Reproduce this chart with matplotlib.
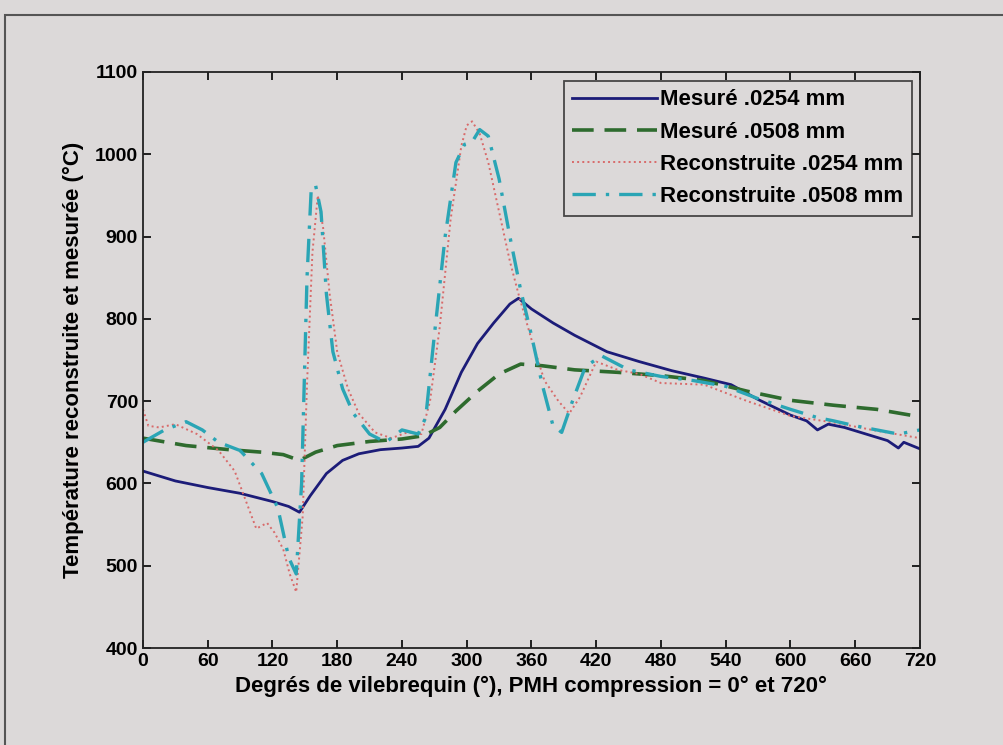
import matplotlib
matplotlib.use('Agg')
import matplotlib.pyplot as plt
from matplotlib.patches import Rectangle

# crank angle (deg) and temperatures (C)
x_mes1 = [0, 30, 60, 90, 120, 135, 145, 155, 170, 185, 200, 220, 240, 255, 265, 280, 295,
          310, 325, 340, 348, 360, 380, 400, 430, 460, 490, 520, 545, 570, 600, 615, 625,
          635, 650, 670, 690, 700, 705, 720]
y_mes1 = [615, 603, 595, 588, 578, 572, 565, 585, 612, 628, 636, 641, 643, 645, 655, 690, 735,
          770, 795, 818, 825, 812, 795, 780, 760, 748, 737, 728, 720, 702, 683, 676, 665,
          672, 668, 660, 652, 643, 650, 642]

x_mes2 = [0, 40, 80, 110, 130, 145, 160, 180, 210, 240, 260, 275, 290, 310, 330, 350, 370,
          400, 440, 480, 520, 560, 600, 640, 680, 720]
y_mes2 = [655, 646, 641, 638, 635, 628, 638, 646, 651, 654, 658, 668, 688, 712, 733, 745, 743,
          738, 735, 731, 725, 712, 701, 695, 690, 681]

x_rec1 = [0, 5, 15, 30, 50, 70, 85, 95, 105, 115, 122, 130, 136, 142, 148, 152, 157, 162,
          167, 173, 180, 190, 200, 215, 230, 245, 258, 266, 275, 285, 295, 300, 305, 312,
          320, 330, 340, 348, 360, 372, 385, 395, 405, 420, 440, 460, 480, 520, 560, 600,
          640, 680, 720]
y_rec1 = [690, 670, 668, 672, 660, 640, 615, 580, 545, 552, 540, 520, 490, 468, 560, 720, 880,
          950, 910, 830, 760, 715, 685, 662, 655, 662, 660, 700, 790, 920, 1010, 1035, 1040,
          1025, 990, 930, 870, 830, 775, 725, 700, 685, 705, 748, 738, 733, 722, 720, 700,
          682, 674, 664, 655]

x_rec2 = [0, 20, 40, 55, 70, 90, 110, 125, 135, 142, 147, 152, 156, 160, 165, 170, 176, 185,
          195, 210, 225, 240, 255, 262, 270, 280, 290, 298, 305, 312, 320, 330, 340, 350,
          360, 370, 380, 388, 398, 410, 425, 450, 480, 510, 540, 570, 600, 625, 640, 660,
          680, 700, 720]
y_rec2 = [650, 665, 675, 665, 650, 640, 612, 570, 510, 490, 600, 850, 960, 962, 930, 830, 760,
          715, 685, 660, 650, 665, 660, 680, 780, 900, 990, 1012, 1015, 1030, 1022, 970, 900,
          835, 780, 720, 670, 662, 700, 742, 755, 738, 730, 725, 718, 703, 690, 680, 676, 670,
          665, 660, 665]

labels = ['Mesuré .0254 mm', 'Mesuré .0508 mm', 'Reconstruite .0254 mm', 'Reconstruite .0508 mm']

bg = '#dcd9d9'
plt.rcParams['font.family'] = ['Liberation Sans', 'DejaVu Sans']
plt.rcParams['font.weight'] = 'bold'

fig = plt.figure(figsize=(10.04, 7.45), dpi=100, facecolor=bg)
# scanned frame around the figure
fig.patches.append(Rectangle((0.005, -0.01), 1.2, 0.99, transform=fig.transFigure,
                             fill=False, edgecolor='#555555', lw=1.5))
ax = fig.add_axes([0.1424, 0.1302, 0.7739, 0.7732])
ax.set_facecolor(bg)

ax.plot(x_mes1, y_mes1, '-', color='#1c1c78', lw=2.0, label=labels[0])
ax.plot(x_mes2, y_mes2, '--', color='#2e6b2e', lw=2.6, dashes=(6, 3), label=labels[1])
ax.plot(x_rec1, y_rec1, ':', color='#d86a6a', lw=1.4, label=labels[2])
ax.plot(x_rec2, y_rec2, '-.', color='#2aa5b5', lw=2.4, dashes=(7, 3, 1, 3), label=labels[3])

ax.set_xlim(0, 720)
ax.set_ylim(400, 1100)
ax.set_xticks(range(0, 721, 60))
ax.set_yticks(range(400, 1101, 100))
ax.tick_params(direction='in', length=6, labelsize=14, top=True, right=True, width=1.2)
for s in ax.spines.values():
    s.set_linewidth(1.3)
    s.set_color('#222222')

ax.set_xlabel('Degrés de vilebrequin (°), PMH compression = 0° et 720°', fontsize=16,
              fontweight='bold', labelpad=4)
ax.set_ylabel('Température reconstruite et mesurée (°C)', fontsize=16, fontweight='bold',
              labelpad=8)

# legend box sits close to the top right corner, like the matlab one
leg = ax.legend(loc='upper right', fontsize=16, frameon=True, fancybox=False,
                edgecolor='#222222', facecolor=bg, handlelength=3.8, handletextpad=0.15,
                borderpad=0.4, labelspacing=0.5, borderaxespad=0,
                bbox_to_anchor=(0.99, 0.985))
leg.get_frame().set_linewidth(1.3)

fig.savefig('out.png', dpi=100, facecolor=bg)
